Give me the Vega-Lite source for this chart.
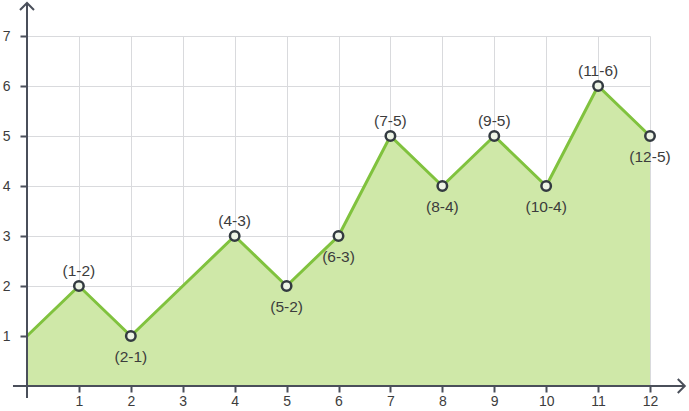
{
  "$schema": "https://vega.github.io/schema/vega-lite/v6.json",
  "autosize": "none",
  "width": 623,
  "height": 350,
  "padding": {"left": 27, "top": 36, "right": 39, "bottom": 25},
  "background": "white",
  "config": {"view": {"stroke": null}, "font": "Liberation Sans"},
  "datasets": {
    "pts": [
      {"x": 0, "y": 1, "label": "", "pos": "none"},
      {"x": 1, "y": 2, "label": "(1-2)", "pos": "above"},
      {"x": 2, "y": 1, "label": "(2-1)", "pos": "below"},
      {"x": 3, "y": 2, "label": "", "pos": "none"},
      {"x": 4, "y": 3, "label": "(4-3)", "pos": "above"},
      {"x": 5, "y": 2, "label": "(5-2)", "pos": "below"},
      {"x": 6, "y": 3, "label": "(6-3)", "pos": "below"},
      {"x": 7, "y": 5, "label": "(7-5)", "pos": "above"},
      {"x": 8, "y": 4, "label": "(8-4)", "pos": "below"},
      {"x": 9, "y": 5, "label": "(9-5)", "pos": "above"},
      {"x": 10, "y": 4, "label": "(10-4)", "pos": "below"},
      {"x": 11, "y": 6, "label": "(11-6)", "pos": "above"},
      {"x": 12, "y": 5, "label": "(12-5)", "pos": "below"}
    ],
    "axes": [
      {"axis": "x", "x1": -0.27, "x2": 12.67, "y1": 0, "y2": 0},
      {"axis": "y", "x1": 0, "x2": 0, "y1": -0.24, "y2": 7.66}
    ],
    "arrows": [
      {"dir": "right", "x": 12.67, "y": 0},
      {"dir": "up", "x": 0, "y": 7.66}
    ]
  },
  "layer": [
    {
      "data": {"name": "pts"},
      "mark": {"type": "area", "color": "#cfe8a8", "opacity": 1},
      "encoding": {
        "x": {
          "field": "x", "type": "quantitative",
          "scale": {"domain": [0, 12], "nice": false, "zero": false},
          "axis": {
            "values": [1,2,3,4,5,6,7,8,9,10,11,12],
            "title": null, "domain": false, "grid": true,
            "gridColor": "#d9dadd", "gridWidth": 1,
            "tickColor": "#4a4f5a", "tickSize": 6, "tickWidth": 2,
            "labelColor": "#3c3c3c", "labelFontSize": 14, "labelPadding": 2,
            "labelFlush": false
          }
        },
        "y": {
          "field": "y", "type": "quantitative",
          "scale": {"domain": [0, 7], "nice": false},
          "axis": {
            "values": [1,2,3,4,5,6,7],
            "title": null, "domain": false, "grid": true,
            "gridColor": "#d9dadd", "gridWidth": 1,
            "tickColor": "#4a4f5a", "tickSize": 7, "tickWidth": 2,
            "labelColor": "#3c3c3c", "labelFontSize": 14, "labelPadding": 10
          }
        }
      }
    },
    {
      "data": {"name": "pts"},
      "mark": {"type": "line", "color": "#80c23e", "strokeWidth": 3},
      "encoding": {
        "x": {"field": "x", "type": "quantitative"},
        "y": {"field": "y", "type": "quantitative"}
      }
    },
    {
      "data": {"name": "axes"},
      "mark": {"type": "rule", "color": "#4a4f5a", "strokeWidth": 2},
      "encoding": {
        "x": {"field": "x1", "type": "quantitative"},
        "x2": {"field": "x2"},
        "y": {"field": "y1", "type": "quantitative"},
        "y2": {"field": "y2"}
      }
    },
    {
      "data": {"name": "arrows"},
      "transform": [{"filter": "datum.dir === 'right'"}],
      "mark": {"type": "point", "shape": "M -1 -1 L 0 0 L -1 1", "size": 196, "filled": false, "stroke": "#4a4f5a", "strokeWidth": 2, "opacity": 1},
      "encoding": {
        "x": {"field": "x", "type": "quantitative"},
        "y": {"field": "y", "type": "quantitative"}
      }
    },
    {
      "data": {"name": "arrows"},
      "transform": [{"filter": "datum.dir === 'up'"}],
      "mark": {"type": "point", "shape": "M -1 1 L 0 0 L 1 1", "size": 196, "filled": false, "stroke": "#4a4f5a", "strokeWidth": 2, "opacity": 1},
      "encoding": {
        "x": {"field": "x", "type": "quantitative"},
        "y": {"field": "y", "type": "quantitative"}
      }
    },
    {
      "data": {"name": "pts"},
      "transform": [{"filter": "datum.pos !== 'none'"}],
      "mark": {"type": "point", "shape": "circle", "size": 90, "filled": true, "fill": "#eef4e6", "stroke": "#333a40", "strokeWidth": 2.5, "opacity": 1},
      "encoding": {
        "x": {"field": "x", "type": "quantitative"},
        "y": {"field": "y", "type": "quantitative"}
      }
    },
    {
      "data": {"name": "pts"},
      "transform": [{"filter": "datum.pos === 'above'"}],
      "mark": {"type": "text", "dy": -15, "fontSize": 15.5, "color": "#3c3c3c"},
      "encoding": {
        "x": {"field": "x", "type": "quantitative"},
        "y": {"field": "y", "type": "quantitative"},
        "text": {"field": "label"}
      }
    },
    {
      "data": {"name": "pts"},
      "transform": [{"filter": "datum.pos === 'below'"}],
      "mark": {"type": "text", "dy": 21, "fontSize": 15.5, "color": "#3c3c3c"},
      "encoding": {
        "x": {"field": "x", "type": "quantitative"},
        "y": {"field": "y", "type": "quantitative"},
        "text": {"field": "label"}
      }
    }
  ]
}
